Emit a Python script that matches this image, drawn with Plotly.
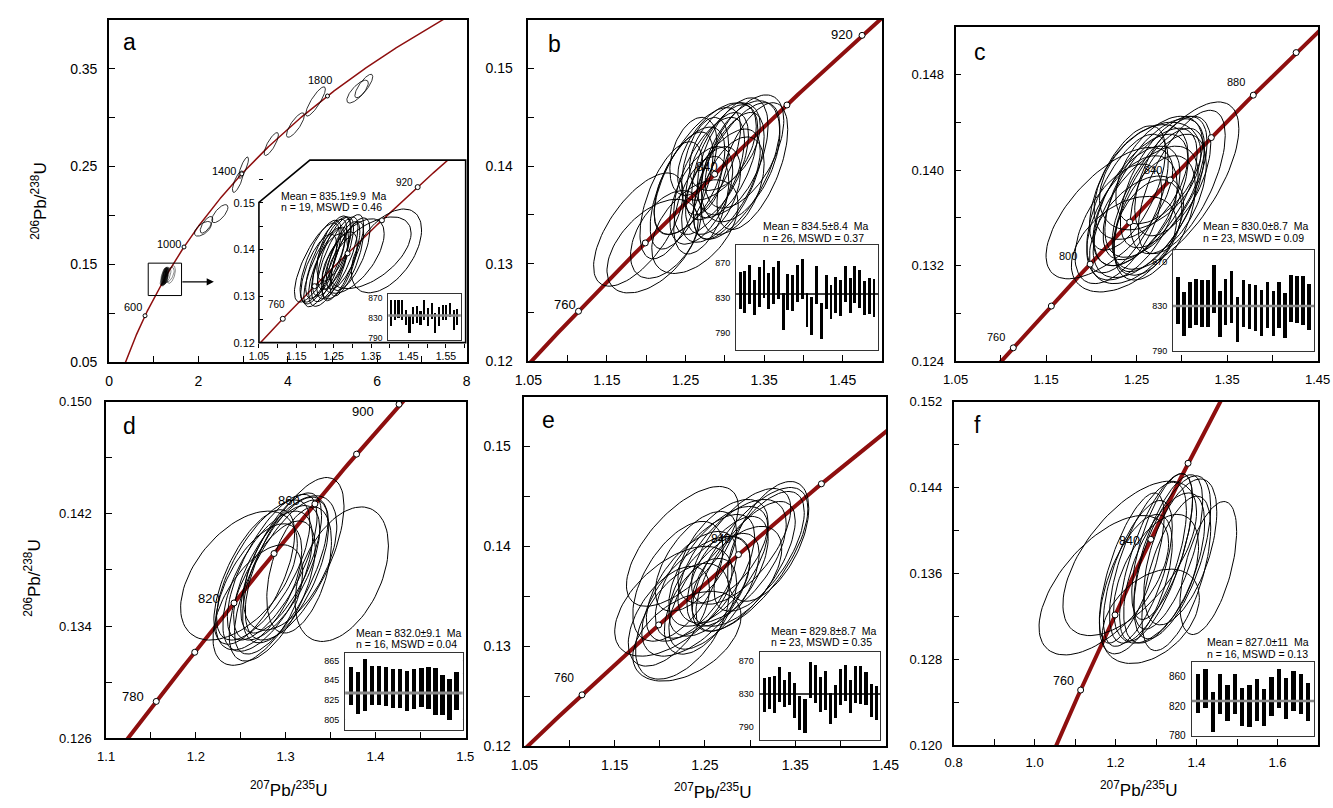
import numpy as np
import plotly.graph_objects as go

W, H = 1333, 808
LAMBDA_238 = 1.55125e-10
LAMBDA_235 = 9.8485e-10

# ============================ DATA ============================
# concordia age marks (Ma)
a_marks = [600, 1000, 1400, 1800]
a_in_marks = [760, 800, 840, 880, 920]
b_marks = [760, 800, 840, 880, 920]
c_marks = [760, 780, 800, 820, 840, 860, 880, 900]
d_marks = [780, 800, 820, 840, 860, 880, 900]
e_marks = [760, 800, 840, 880]
f_marks = [760, 800, 840, 880]

# labelled ages
a_lab = [600, 1000, 1400, 1800]
a_in_lab = [760, 920]
b_lab = [760, 840, 920]
c_lab = [760, 800, 840, 880]
d_lab = [780, 820, 860, 900]
e_lab = [760, 840]
f_lab = [760, 840]

# ---- ellipses: centre (207Pb/235U, 206Pb/238U), half-extent, correlation ----
# panel a, older inherited grains
a_old_x = [2.10, 2.18, 2.48, 2.88, 3.01, 3.63, 4.17, 4.62, 5.56, 5.70]
a_old_y = [0.1864, 0.1905, 0.2019, 0.2346, 0.2488, 0.2730, 0.2924, 0.3165, 0.3266, 0.3323]
a_old_sx = [0.19, 0.14, 0.18, 0.12, 0.11, 0.16, 0.20, 0.22, 0.24, 0.20]
a_old_sy = [0.0075, 0.0085, 0.0092, 0.011, 0.011, 0.0117, 0.0125, 0.015, 0.0117, 0.012]
a_old_rho = [0.60, 0.70, 0.70, 0.75, 0.80, 0.80, 0.80, 0.85, 0.75, 0.80]

# panel a, ~835 Ma cluster (inset and main)
a_x = [1.391, 1.347, 1.302, 1.215, 1.230, 1.245, 1.260, 1.240, 1.255, 1.225,
       1.280, 1.210, 1.270, 1.295, 1.250, 1.235, 1.265, 1.285, 1.205]
a_y = [0.1397, 0.1393, 0.1386, 0.1375, 0.1380, 0.1385, 0.1382, 0.1368, 0.1392, 0.1362,
       0.1395, 0.1358, 0.1375, 0.1390, 0.1402, 0.1356, 0.1366, 0.1380, 0.1372]
a_sx = [0.094, 0.110, 0.083, 0.055, 0.055, 0.052, 0.055, 0.050, 0.048, 0.055,
        0.050, 0.048, 0.050, 0.052, 0.045, 0.052, 0.048, 0.045, 0.060]
a_sy = [0.0090, 0.0077, 0.0080, 0.0088, 0.0085, 0.0085, 0.0088, 0.0080, 0.0078, 0.0085,
        0.0080, 0.0075, 0.0085, 0.0078, 0.0070, 0.0078, 0.0072, 0.0080, 0.0085]
a_rho = [0.50, 0.55, 0.60, 0.72, 0.75, 0.72, 0.75, 0.68, 0.70, 0.75,
         0.72, 0.68, 0.75, 0.68, 0.60, 0.65, 0.62, 0.72, 0.75]

b_x = [1.190, 1.208, 1.225, 1.262, 1.232, 1.265, 1.280, 1.290, 1.300, 1.310, 1.320, 1.295, 1.270,
       1.255, 1.285, 1.305, 1.325, 1.275, 1.315, 1.300, 1.245, 1.335, 1.260, 1.290, 1.270, 1.310]
b_y = [0.1335, 0.1318, 0.1330, 0.1338, 0.1365, 0.1395, 0.1390, 0.1400, 0.1405, 0.1410, 0.1405, 0.1380, 0.1370,
       0.1385, 0.1375, 0.1390, 0.1415, 0.1400, 0.1395, 0.1420, 0.1375, 0.1400, 0.1410, 0.1415, 0.1360, 0.1380]
b_sx = [0.057, 0.058, 0.045, 0.055, 0.040, 0.055, 0.045, 0.040, 0.042, 0.045, 0.050, 0.050, 0.040,
        0.045, 0.035, 0.045, 0.050, 0.030, 0.055, 0.045, 0.040, 0.045, 0.030, 0.050, 0.035, 0.040]
b_sy = [0.0058, 0.0048, 0.0045, 0.0048, 0.0060, 0.0065, 0.0060, 0.0055, 0.0058, 0.0060, 0.0062, 0.0058, 0.0050,
        0.0055, 0.0045, 0.0065, 0.0058, 0.0050, 0.0070, 0.0045, 0.0060, 0.0065, 0.0040, 0.0050, 0.0050, 0.0050]
b_rho = [0.65, 0.52, 0.48, 0.48, 0.58, 0.68, 0.62, 0.58, 0.55, 0.52, 0.48, 0.62, 0.52,
         0.58, 0.45, 0.62, 0.55, 0.40, 0.65, 0.48, 0.62, 0.58, 0.35, 0.52, 0.48, 0.45]

c_x = [1.220, 1.293, 1.236, 1.255, 1.265, 1.250, 1.270, 1.245, 1.275, 1.260, 1.280, 1.240,
       1.285, 1.255, 1.270, 1.230, 1.290, 1.265, 1.250, 1.275, 1.240, 1.262, 1.300]
c_y = [0.1364, 0.1387, 0.1338, 0.1375, 0.1380, 0.1370, 0.1385, 0.1360, 0.1375, 0.1365, 0.1390, 0.1372,
       0.1380, 0.1390, 0.1360, 0.1355, 0.1395, 0.1395, 0.1350, 0.1400, 0.1385, 0.1352, 0.1390]
c_sx = [0.070, 0.070, 0.058, 0.052, 0.052, 0.048, 0.055, 0.050, 0.050, 0.058, 0.048, 0.045,
        0.042, 0.052, 0.045, 0.048, 0.042, 0.056, 0.052, 0.048, 0.042, 0.038, 0.048]
c_sy = [0.0055, 0.0070, 0.0040, 0.0055, 0.0055, 0.0050, 0.0058, 0.0052, 0.0060, 0.0055, 0.0055, 0.0058,
        0.0050, 0.0048, 0.0052, 0.0050, 0.0050, 0.0045, 0.0045, 0.0045, 0.0052, 0.0040, 0.0060]
c_rho = [0.65, 0.68, 0.45, 0.60, 0.62, 0.55, 0.60, 0.52, 0.65, 0.58, 0.60, 0.62,
         0.50, 0.48, 0.50, 0.55, 0.55, 0.42, 0.48, 0.50, 0.60, 0.40, 0.65]

d_x = [1.248, 1.3625, 1.310, 1.269, 1.275, 1.285, 1.290, 1.280, 1.295, 1.270, 1.300, 1.305,
       1.285, 1.295, 1.265, 1.315]
d_y = [0.1376, 0.1377, 0.1388, 0.1355, 0.1380, 0.1382, 0.1378, 0.1372, 0.1385, 0.1368, 0.1380, 0.1385,
       0.1365, 0.1375, 0.1375, 0.1380]
d_sx = [0.065, 0.052, 0.055, 0.050, 0.052, 0.050, 0.048, 0.050, 0.045, 0.048, 0.048, 0.052,
        0.048, 0.052, 0.045, 0.036]
d_sy = [0.0046, 0.0048, 0.0058, 0.0043, 0.0050, 0.0052, 0.0048, 0.0050, 0.0050, 0.0045, 0.0052, 0.0048,
        0.0050, 0.0055, 0.0048, 0.0045]
d_rho = [0.50, 0.42, 0.65, 0.55, 0.68, 0.70, 0.65, 0.62, 0.68, 0.58, 0.62, 0.55,
         0.62, 0.72, 0.65, 0.45]

e_x = [1.225, 1.230, 1.300, 1.215, 1.240, 1.250, 1.265, 1.280, 1.290, 1.310, 1.235, 1.255,
       1.275, 1.210, 1.225, 1.245, 1.295, 1.320, 1.270, 1.260, 1.285, 1.240, 1.220]
e_y = [0.1400, 0.1310, 0.1387, 0.1345, 0.1350, 0.1370, 0.1380, 0.1385, 0.1400, 0.1395, 0.1360, 0.1360,
       0.1375, 0.1330, 0.1325, 0.1340, 0.1380, 0.1405, 0.1395, 0.1355, 0.1370, 0.1385, 0.1365]
e_sx = [0.062, 0.060, 0.064, 0.065, 0.060, 0.055, 0.055, 0.060, 0.055, 0.050, 0.050, 0.045,
        0.045, 0.045, 0.052, 0.040, 0.055, 0.045, 0.050, 0.050, 0.050, 0.045, 0.050]
e_sy = [0.0060, 0.0045, 0.0072, 0.0055, 0.0060, 0.0062, 0.0060, 0.0062, 0.0058, 0.0060, 0.0055, 0.0050,
        0.0055, 0.0050, 0.0058, 0.0048, 0.0065, 0.0060, 0.0052, 0.0058, 0.0050, 0.0050, 0.0060]
e_rho = [0.65, 0.45, 0.70, 0.55, 0.60, 0.65, 0.62, 0.60, 0.65, 0.65, 0.60, 0.55,
         0.60, 0.55, 0.50, 0.50, 0.70, 0.55, 0.55, 0.65, 0.55, 0.60, 0.55]

f_x = [1.171, 1.235, 1.429, 1.287, 1.280, 1.300, 1.320, 1.255, 1.330, 1.340, 1.250, 1.360,
       1.300, 1.315, 1.240, 1.350]
f_y = [0.1349, 0.1374, 0.1365, 0.1320, 0.1370, 0.1375, 0.1365, 0.1360, 0.1380, 0.1375, 0.1350, 0.1380,
       0.1355, 0.1385, 0.1365, 0.1360]
f_sx = [0.160, 0.165, 0.070, 0.120, 0.095, 0.090, 0.100, 0.085, 0.085, 0.095, 0.090, 0.090,
        0.105, 0.075, 0.080, 0.085]
f_sy = [0.0065, 0.0072, 0.0062, 0.0044, 0.0075, 0.0078, 0.0070, 0.0068, 0.0072, 0.0076, 0.0065, 0.0068,
        0.0060, 0.0068, 0.0070, 0.0072]
f_rho = [0.60, 0.60, 0.55, 0.40, 0.65, 0.70, 0.60, 0.65, 0.66, 0.62, 0.58, 0.55,
         0.50, 0.65, 0.70, 0.60]

# ---- weighted-mean age bars (Ma): lower / upper end of each error bar ----
a_bar_lo = [815.3, 827.3, 830.7, 827.3, 817.3, 800.7, 819.3, 820.7, 817.3, 827.3,
            815.3, 830.0, 800.7, 814.0, 827.3, 827.3, 834.0, 807.3, 817.3]
a_bar_hi = [867.3, 867.3, 867.3, 868.7, 847.3, 837.3, 852.7, 855.3, 846.0, 868.7,
            850.7, 860.7, 842.0, 852.7, 857.3, 857.3, 860.7, 847.3, 848.7]
b_bar_lo = [817.2, 812.6, 822.8, 809.6, 819.1, 829.2, 816.4, 822.1, 828.5, 793.0, 815.7, 814.2, 824.7, 827.7, 795.7,
            787.0, 822.5, 782.5, 816.4, 805.1, 812.6, 808.9, 824.7, 811.9, 824.0, 817.9, 809.6, 811.1, 807.4]
b_bar_hi = [858.7, 859.8, 866.6, 850.4, 864.3, 872.3, 857.9, 864.7, 871.5, 835.3, 857.2, 855.7, 866.6, 873.8, 835.3,
            830.8, 866.2, 823.2, 856.0, 844.7, 853.4, 849.6, 865.5, 852.6, 866.2, 861.7, 848.9, 851.9, 851.1]
c_bar_lo = [813.8, 802.8, 810.0, 812.3, 810.9, 810.9, 823.0, 801.9, 812.3, 814.3, 797.0, 810.9,
            808.6, 807.1, 802.8, 809.4, 802.8, 809.7, 801.0, 814.9, 814.3, 812.9, 808.0]
c_bar_hi = [855.5, 842.5, 851.2, 853.5, 853.2, 853.2, 866.8, 843.3, 854.3, 861.3, 837.5, 852.6,
            849.7, 848.6, 843.9, 851.4, 843.3, 851.2, 841.3, 857.2, 856.7, 856.7, 849.1]
d_bar_lo = [820.0, 811.0, 814.3, 820.0, 820.0, 818.7, 817.0, 817.0, 813.7, 816.0, 818.3, 816.3,
            810.0, 810.0, 805.0, 815.0]
d_bar_hi = [858.3, 853.7, 866.7, 859.3, 860.0, 858.3, 856.3, 856.3, 855.0, 857.0, 857.7, 858.7,
            857.7, 850.3, 847.0, 853.7]
e_bar_lo = [808.6, 811.8, 807.4, 820.7, 814.6, 816.7, 800.5, 786.4, 782.3, 824.7, 818.7, 807.8,
            810.6, 793.2, 801.4, 816.7, 821.5, 806.6, 818.7, 817.5, 816.7, 802.5, 798.5]
e_bar_hi = [849.0, 851.0, 851.8, 863.1, 847.0, 857.1, 842.9, 828.0, 824.0, 869.2, 865.2, 851.0,
            858.3, 830.8, 840.9, 860.3, 865.2, 847.0, 864.3, 864.3, 857.1, 841.7, 840.1]
f_bar_lo = [811.9, 818.6, 785.7, 809.5, 800.0, 809.5, 792.9, 792.4, 801.0, 793.8, 807.1, 817.6,
            803.3, 813.8, 809.5, 800.0]
f_bar_hi = [864.3, 871.0, 840.5, 864.3, 850.0, 864.3, 845.2, 849.5, 857.1, 843.8, 860.5, 871.4,
            859.0, 868.6, 864.3, 852.4]

# weighted means (Ma) and statistics text
means = [835.1, 834.5, 830.0, 832.0, 829.8, 827.0]
mean_text = [("Mean = 835.1±9.9\u00a0\u00a0Ma", "n = 19, MSWD = 0.46"),
             ("Mean = 834.5±8.4\u00a0\u00a0Ma", "n = 26, MSWD = 0.37"),
             ("Mean = 830.0±8.7\u00a0\u00a0Ma", "n = 23, MSWD = 0.09"),
             ("Mean = 832.0±9.1\u00a0\u00a0Ma", "n = 16, MSWD = 0.04"),
             ("Mean = 829.8±8.7\u00a0\u00a0Ma", "n = 23, MSWD = 0.35"),
             ("Mean = 827.0±11\u00a0\u00a0Ma", "n = 16, MSWD = 0.13")]
bar_grid = [[807, 821, 847, 861], [790, 810, 850, 870], [810, 850, 870],
            [805, 816, 852, 865], [790, 810, 850, 870], [797, 822, 847, 872]]
bar_ticks = [[790, 830, 870], [790, 830, 870], [790, 830, 870],
             [805, 825, 845, 865], [790, 830, 870], [780, 820, 860]]
panel_letters = ["a", "b", "c", "d", "e", "f"]

# ============================ HELPERS ============================
RED = "#8e0f0f"
FONT = "Liberation Sans, Arial, sans-serif"


def concordia(ages):
    t = np.asarray(ages, dtype=float) * 1e6
    return np.exp(LAMBDA_235 * t) - 1.0, np.exp(LAMBDA_238 * t) - 1.0


def ellipse_paths(xs, ys, sxs, sys_, rhos, n=90):
    th = np.linspace(0, 2 * np.pi, n)
    X, Y = [], []
    for cx, cy, sx, sy, r in zip(xs, ys, sxs, sys_, rhos):
        X += list(cx + sx * np.cos(th)) + [None]
        Y += list(cy + sy * (r * np.cos(th) + np.sqrt(1 - r * r) * np.sin(th))) + [None]
    return X, Y


def ax_name(kind, i):
    return kind if i == 1 else f"{kind}{i}"


def dom_x(p0, p1):
    return [p0 / W, p1 / W]


def dom_y(top, bottom):
    return [1 - bottom / H, 1 - top / H]


fig = go.Figure()
layout = dict(width=W, height=H, autosize=False, margin=dict(l=0, r=0, t=0, b=0),
              paper_bgcolor="white", plot_bgcolor="white", showlegend=False,
              font=dict(family=FONT, color="black"), bargap=0)
shapes, annotations = [], []

# ---------------- main panel axes ----------------
main_cfg = {
    1: dict(px=(97, 462), py=(13, 362), xr=[0, 8.0005], yr=[0.05, 0.40], xt=(0, 2, 1), yt=(0.05, 0.1, 0.05), xf="d", yf=".2f", fs=14, ys=7),
    2: dict(px=(525, 886), py=(13, 361), xr=[1.05, 1.50], yr=[0.12, 0.155], xt=(1.05, 0.1, 0.05), yt=(0.12, 0.01, 0.005), xf=".2f", yf=".2f", fs=14, ys=11),
    3: dict(px=(961, 1331), py=(20, 361), xr=[1.05, 1.4505], yr=[0.124, 0.152], xt=(1.05, 0.1, 0.05), yt=(0.124, 0.008, 0.004), xf=".2f", yf=".3f", fs=13, ys=7),
    4: dict(px=(94, 461), py=(402, 745), xr=[1.1, 1.5005], yr=[0.126, 0.15002], xt=(1.1, 0.1, 0.05), yt=(0.126, 0.008, 0.004), xf=".1f", yf=".3f", fs=13, ys=10),
    5: dict(px=(521, 890), py=(397, 753), xr=[1.05, 1.4505], yr=[0.12, 0.155], xt=(1.05, 0.1, 0.05), yt=(0.12, 0.01, 0.005), xf=".2f", yf=".2f", fs=14, ys=9),
    6: dict(px=(959, 1331), py=(402, 752), xr=[0.8, 1.7], yr=[0.12, 0.15202], xt=(0.8, 0.2, 0.1), yt=(0.12, 0.008, 0.004), xf=".1f", yf=".3f", fs=13, ys=7),
}
for i, c in main_cfg.items():
    tickcommon = dict(ticks="inside", ticklen=6, tickwidth=1.2, tickcolor="black",
                      showline=True, linewidth=1.7, linecolor="black", mirror=True,
                      showgrid=False, zeroline=False, tickfont=dict(size=c["fs"], family=FONT, color="black"))
    layout[ax_name("xaxis", i)] = dict(domain=dom_x(*c["px"]), range=c["xr"], anchor=ax_name("y", i),
                                       tick0=c["xt"][0], dtick=c["xt"][1], tickformat=c["xf"],
                                       ticklabelstandoff=5,
                                       minor=dict(tick0=c["xt"][0], dtick=c["xt"][2], ticks="inside", ticklen=6,
                                                  tickwidth=1.2, tickcolor="black", showgrid=False),
                                       **tickcommon)
    layout[ax_name("yaxis", i)] = dict(domain=dom_y(*c["py"]), range=c["yr"], anchor=ax_name("x", i),
                                       tick0=c["yt"][0], dtick=c["yt"][1], tickformat=c["yf"],
                                       ticklabelstandoff=c["ys"],
                                       minor=dict(tick0=c["yt"][0], dtick=c["yt"][2], ticks="inside", ticklen=6,
                                                  tickwidth=1.2, tickcolor="black", showgrid=False),
                                       **tickcommon)

# ---------------- inset concordia of panel a (axis 7) ----------------
layout["xaxis7"] = dict(domain=dom_x(250, 461), range=[1.05, 1.603], anchor="y7", tick0=1.05, dtick=0.1,
                        tickformat=".2f", ticks="outside", ticklen=4, tickcolor="black", showline=False,
                        showgrid=False, zeroline=False, tickfont=dict(size=10.5, family=FONT, color="black"),
                        ticklabelstandoff=0,
                        minor=dict(tick0=1.05, dtick=0.05, ticks="outside", ticklen=4, tickcolor="black", showgrid=False))
layout["yaxis7"] = dict(domain=dom_y(156, 342), range=[0.12, 0.1592], anchor="x7", tick0=0.12, dtick=0.01,
                        tickformat=".2f", ticks="inside", ticklen=4, tickcolor="black", showline=False,
                        showgrid=False, zeroline=False, tickfont=dict(size=11, family=FONT, color="black"),
                        ticklabelstandoff=3,
                        minor=dict(tick0=0.12, dtick=0.005, ticks="inside", ticklen=4, tickcolor="black", showgrid=False))
shapes.append(dict(type="path", xref="paper", yref="paper",
                   path=f"M {250/W} {1-342/H} L {250/W} {1-199/H} L {302/W} {1-156/H} L {461/W} {1-156/H} L {461/W} {1-342/H} Z",
                   line=dict(color="black", width=1.6), layer="above"))

# ---------------- bar-chart insets (axes 8-13) ----------------
bar_cfg = [
    dict(px=(382, 456), py=(292, 339), yr=[786, 880], fs=8.5, lo=a_bar_lo, hi=a_bar_hi, mean_col="#888888", mean_w=2.5),
    dict(px=(737, 882), py=(243, 349), yr=[771, 890], fs=9, lo=b_bar_lo, hi=b_bar_hi, mean_col="black", mean_w=1.5),
    dict(px=(1183, 1327), py=(248, 351), yr=[789, 880], fs=9, lo=c_bar_lo, hi=c_bar_hi, mean_col="#888888", mean_w=2.5),
    dict(px=(338, 458), py=(658, 737), yr=[794, 873], fs=9, lo=d_bar_lo, hi=d_bar_hi, mean_col="#888888", mean_w=3),
    dict(px=(761, 884), py=(657, 747), yr=[774, 881], fs=9, lo=e_bar_lo, hi=e_bar_hi, mean_col="black", mean_w=1.5),
    dict(px=(1202, 1327), py=(667, 743), yr=[779, 881], fs=10, lo=f_bar_lo, hi=f_bar_hi, mean_col="#888888", mean_w=2.5),
]
for k, c in enumerate(bar_cfg):
    i = 8 + k
    n = len(c["lo"])
    layout[f"xaxis{i}"] = dict(domain=dom_x(*c["px"]), range=[0.15, n + 0.85], anchor=f"y{i}",
                               showline=True, mirror=True, linewidth=1.1, linecolor="#333333",
                               showticklabels=False, ticks="", showgrid=False, zeroline=False)
    layout[f"yaxis{i}"] = dict(domain=dom_y(*c["py"]), range=c["yr"], anchor=f"x{i}",
                               showline=True, mirror=True, linewidth=1.1, linecolor="#333333",
                               tickvals=bar_ticks[k], ticks="", ticklabelstandoff=3,
                               tickfont=dict(size=c["fs"], family=FONT, color="black"), showgrid=False, zeroline=False)
    for g in bar_grid[k]:
        shapes.append(dict(type="line", xref=f"x{i} domain", yref=f"y{i}", x0=0, x1=1, y0=g, y1=g,
                           line=dict(color="#aaaaaa", width=1), layer="below"))
    shapes.append(dict(type="line", xref=f"x{i} domain", yref=f"y{i}", x0=0, x1=1, y0=means[k], y1=means[k],
                       line=dict(color=c["mean_col"], width=c["mean_w"]), layer="above"))
    idx = list(range(1, n + 1))
    fig.add_trace(go.Bar(x=idx, y=[h - l for l, h in zip(c["lo"], c["hi"])], base=c["lo"], width=0.6,
                         marker=dict(color="black", line=dict(width=0)), xaxis=f"x{i}", yaxis=f"y{i}",
                         hoverinfo="skip"))

# ---------------- traces: concordia, ellipses, markers ----------------
def add_panel(xa, ya, age_range, ell, marks, lw, msize, ewidth=1.0):
    cx, cy = concordia(np.arange(age_range[0], age_range[1], 2.0))
    fig.add_trace(go.Scatter(x=cx, y=cy, mode="lines", line=dict(color=RED, width=lw),
                             xaxis=xa, yaxis=ya, hoverinfo="skip"))
    for e, w in ell:
        ex, ey = ellipse_paths(*e)
        fig.add_trace(go.Scatter(x=ex, y=ey, mode="lines", line=dict(color="black", width=w),
                                 xaxis=xa, yaxis=ya, hoverinfo="skip", connectgaps=False))
    mx, my = concordia(marks)
    fig.add_trace(go.Scatter(x=mx, y=my, mode="markers",
                             marker=dict(size=msize, color="white", line=dict(color="black", width=1)),
                             xaxis=xa, yaxis=ya, hoverinfo="skip", cliponaxis=False))


add_panel("x", "y", (0, 2400), [((a_old_x, a_old_y, a_old_sx, a_old_sy, a_old_rho), 0.8),
                                ((a_x, a_y, a_sx, a_sy, a_rho), 0.45)], a_marks, 1.5, 4)
add_panel("x7", "y7", (700, 1000), [((a_x, a_y, a_sx, a_sy, a_rho), 1.0)], a_in_marks, 1.5, 5)
add_panel("x2", "y2", (700, 1000), [((b_x, b_y, b_sx, b_sy, b_rho), 1.0)], b_marks, 4, 6)
add_panel("x3", "y3", (700, 1000), [((c_x, c_y, c_sx, c_sy, c_rho), 1.0)], c_marks, 4, 6)
add_panel("x4", "y4", (700, 1000), [((d_x, d_y, d_sx, d_sy, d_rho), 1.0)], d_marks, 4, 6)
add_panel("x5", "y5", (700, 1000), [((e_x, e_y, e_sx, e_sy, e_rho), 1.0)], e_marks, 4, 6)
add_panel("x6", "y6", (700, 1000), [((f_x, f_y, f_sx, f_sy, f_rho), 1.0)], f_marks, 4, 6)

# ---------------- age labels ----------------
label_style = [
    ("x", "y", a_lab, 11, {600: (-12, -9), 1000: (-15, -3), 1400: (-18, -3), 1800: (-7, -16)}),
    ("x7", "y7", a_in_lab, 10, {760: (-6, -14), 920: (-13, -5)}),
    ("x2", "y2", b_lab, 13, {760: (-14, -7), 840: (-8, -8), 920: (-20, -1)}),
    ("x3", "y3", c_lab, 11, {760: (-17, -11), 800: (-22, -8), 840: (-17, -10), 880: (-17, -13)}),
    ("x4", "y4", d_lab, 13, {780: (-23, -5), 820: (-25, -4), 860: (-26, -3), 900: (-36, 7)}),
    ("x5", "y5", e_lab, 12, {760: (-18, -17), 840: (-17, -16)}),
    ("x6", "y6", f_lab, 12.5, {760: (-17, -9), 840: (-21, 2)}),
]
for xa, ya, ages, fs, offs in label_style:
    lx, ly = concordia(ages)
    for age, x, y in zip(ages, lx, ly):
        dx, dy = offs[age]
        annotations.append(dict(x=x, y=y, xref=xa, yref=ya, text=str(age), showarrow=False,
                                xshift=dx, yshift=-dy, font=dict(size=fs, family=FONT, color="black")))

# ---------------- mean text ----------------
mean_pos = [(270, 193, 204), (762, 223, 235), (1212, 223, 235),
            (347, 638, 649), (771, 636, 647), (1216, 647, 659)]
for (x0, y1, y2), (t1, t2) in zip(mean_pos, mean_text):
    for yy, tt in ((y1, t1), (y2, t2)):
        annotations.append(dict(x=x0 / W, y=1 - yy / H, xref="paper", yref="paper", text=tt,
                                showarrow=False, xanchor="left", yanchor="middle",
                                font=dict(size=10.5, family=FONT, color="black")))

# ---------------- panel letters ----------------
letter_pos = [(118, 36), (552, 38), (986, 46), (118, 427), (546, 421), (983, 426)]
for (x0, y0), t in zip(letter_pos, panel_letters):
    annotations.append(dict(x=x0 / W, y=1 - y0 / H, xref="paper", yref="paper", text=t, showarrow=False,
                            xanchor="center", yanchor="middle", font=dict(size=23, family=FONT, color="black")))

# ---------------- axis titles ----------------
ytitle = "<sup>206</sup>Pb/<sup>238</sup>U"
xtitle = "<sup>207</sup>Pb/<sup>235</sup>U"
for (x0, y0) in [(26, 197), (19, 582)]:
    annotations.append(dict(x=x0 / W, y=1 - y0 / H, xref="paper", yref="paper", text=ytitle, textangle=-90,
                            showarrow=False, xanchor="center", yanchor="middle",
                            font=dict(size=17, family=FONT, color="black")))
for (x0, y0) in [(281, 797), (713, 799), (1148, 797)]:
    annotations.append(dict(x=x0 / W, y=1 - y0 / H, xref="paper", yref="paper", text=xtitle,
                            showarrow=False, xanchor="center", yanchor="middle",
                            font=dict(size=17, family=FONT, color="black")))

# ---------------- zoom box and arrow in panel a ----------------
shapes.append(dict(type="rect", xref="paper", yref="paper", x0=137 / W, x1=171 / W, y0=1 - 294 / H, y1=1 - 261 / H,
                   line=dict(color="black", width=1)))
annotations.append(dict(x=204 / W, y=1 - 280 / H, xref="paper", yref="paper", ax=-33, ay=0, text="",
                        showarrow=True, arrowhead=2, arrowsize=1.2, arrowwidth=1.2, arrowcolor="black"))

layout["shapes"] = shapes
layout["annotations"] = annotations
fig.update_layout(**layout)
fig.write_html("out.html")
